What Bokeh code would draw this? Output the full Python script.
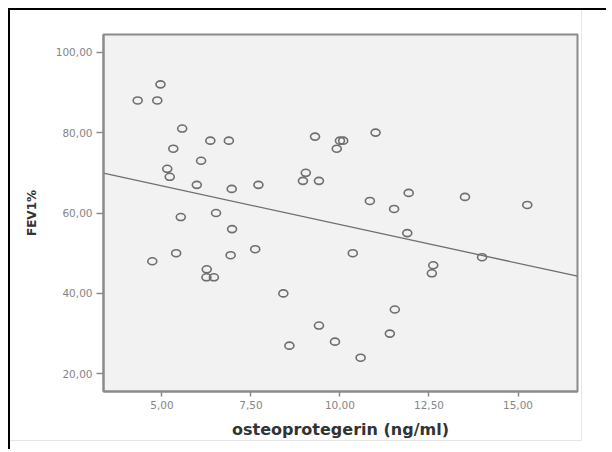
import numpy as np
from bokeh.plotting import figure
from bokeh.layouts import column, row, Spacer
from bokeh.models import FixedTicker, Range1d
from bokeh.embed import file_html
from bokeh.resources import INLINE

# data
opg = [4.32, 4.96, 4.87, 5.57, 5.32, 6.36, 6.88, 6.10, 5.15, 5.22, 5.98, 6.96,
       7.71, 9.30, 10.00, 10.09, 9.91, 9.04, 8.96, 9.41, 11.00, 11.93, 13.51,
       15.26, 10.84, 11.52, 11.89, 10.36, 13.99, 12.62, 12.58, 11.54, 11.40,
       9.86, 10.58, 5.53, 6.52, 6.97, 5.40, 4.73, 6.93, 7.62, 6.26, 6.25, 6.46,
       8.41, 9.41, 8.58]
fev1 = [88, 92, 88, 81, 76, 78, 78, 73, 71, 69, 67, 66,
        67, 79, 78, 78, 76, 70, 68, 68, 80, 65, 64,
        62, 63, 61, 55, 50, 49, 47, 45, 36, 30,
        28, 24, 59, 60, 56, 50, 48, 49.5, 51, 46, 44, 44,
        40, 32, 27]

x_ticks = [5, 7.5, 10, 12.5, 15]
x_tick_labels = ["5,00", "7,50", "10,00", "12,50", "15,00"]
y_ticks = [20, 40, 60, 80, 100]
y_tick_labels = ["20,00", "40,00", "60,00", "80,00", "100,00"]

x_lo, x_hi = 3.36, 16.67
y_lo, y_hi = 15.6, 104.4

# least-squares fit line
slope, intercept = np.polyfit(opg, fev1, 1)
fit_x = [x_lo, x_hi]
fit_y = [intercept + slope * v for v in fit_x]

p = figure(width=572, height=431, output_backend="svg", toolbar_location=None,
           x_range=Range1d(x_lo, x_hi), y_range=Range1d(y_lo, y_hi),
           min_border_left=93, min_border_right=5, min_border_top=24,
           min_border_bottom=48)
p.styles = {"border-right": "1px solid #e6e6e6", "border-bottom": "1px solid #e6e6e6"}

p.background_fill_color = "#f2f2f2"
p.border_fill_color = "white"
p.outline_line_color = "#8a8a8a"
p.outline_line_width = 2
p.grid.visible = False

p.line(fit_x, fit_y, line_color="#6e6e6e", line_width=1.3)
p.ellipse(opg, fev1, width=9, height=7, width_units="screen", height_units="screen",
          fill_color=None, line_color="#6e6e6e", line_width=1.6)

for ax in (p.xaxis[0], p.yaxis[0]):
    ax.axis_line_color = "#8a8a8a"
    ax.axis_line_width = 2
    ax.major_tick_line_color = "#8a8a8a"
    ax.major_tick_line_width = 1.5
    ax.major_tick_in = 0
    ax.minor_tick_line_color = None
    ax.major_label_text_font = "DejaVu Sans"
    ax.major_label_text_font_size = "10.5px"
    ax.major_label_text_color = "#858585"
    ax.axis_label_text_font = "DejaVu Sans"
    ax.axis_label_text_font_style = "bold"
    ax.axis_label_text_color = "#333333"

p.xaxis.ticker = FixedTicker(ticks=x_ticks)
p.xaxis.major_label_overrides = dict(zip(x_ticks, x_tick_labels))
p.yaxis.ticker = FixedTicker(ticks=y_ticks)
p.yaxis.major_label_overrides = dict(zip(y_ticks, y_tick_labels))

p.xaxis.major_tick_out = 5
p.xaxis.major_label_standoff = 4
p.xaxis.axis_label = "osteoprotegerin (ng/ml)"
p.xaxis.axis_label_text_font_size = "16px"
p.xaxis.axis_label_standoff = 8

p.yaxis.major_tick_out = 7
p.yaxis.major_label_standoff = 4
p.yaxis.axis_label = "FEV1%"
p.yaxis.axis_label_text_font_size = "12px"
p.yaxis.axis_label_standoff = 14

layout = column(row(p, Spacer(width=24, height=10)), Spacer(width=10, height=8),
                styles={"border-top": "2px solid black", "border-left": "2px solid black",
                        "border-right": "0px none", "border-bottom": "0px none",
                        "margin-top": "8px", "margin-left": "8px",
                        "overflow": "hidden"})

open("out.html", "w").write(file_html(layout, INLINE))
